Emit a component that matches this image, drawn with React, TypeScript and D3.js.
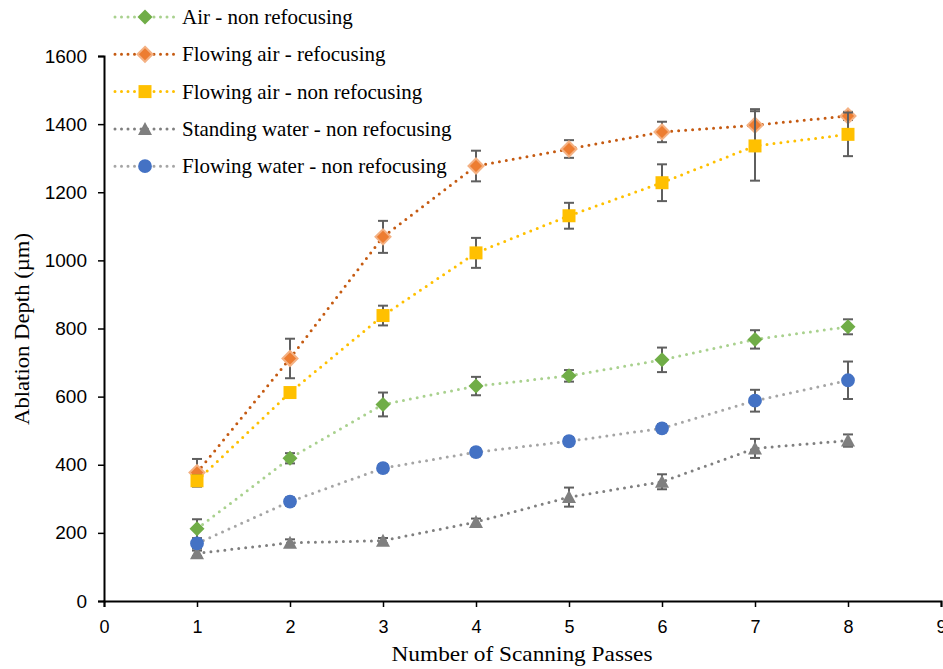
import React, { useRef, useEffect } from "react";
import * as d3 from "d3";

// scanning passes
const passes = [1, 2, 3, 4, 5, 6, 7, 8];

// ablation depth (µm) and standard deviations
const airNonRefocus = [212, 419, 577, 631, 661, 708, 768, 805];
const airNonRefocusErr = [28, 15, 35, 27, 17, 36, 27, 22];

const flowAirRefocus = [377, 712, 1069, 1277, 1327, 1377, 1397, 1424];
const flowAirRefocusErr = [40, 58, 47, 45, 26, 30, 47, 12];

const flowAirNonRefocus = [353, 612, 838, 1022, 1131, 1228, 1336, 1370];
const flowAirNonRefocusErr = [17, 12, 29, 44, 38, 54, 102, 64];

const standWaterNonRefocus = [140, 171, 177, 232, 305, 350, 448, 471];
const standWaterNonRefocusErr = [8, 10, 8, 10, 28, 22, 28, 18];

const flowWaterNonRefocus = [169, 292, 390, 437, 469, 507, 588, 648];
const flowWaterNonRefocusErr = [15, 12, 12, 12, 12, 12, 32, 55];

const seriesNames = [
  "Air - non refocusing",
  "Flowing air - refocusing",
  "Flowing air - non refocusing",
  "Standing water - non refocusing",
  "Flowing water - non refocusing",
];

const xTicks = [0, 1, 2, 3, 4, 5, 6, 7, 8, 9];
const yTicks = [0, 200, 400, 600, 800, 1000, 1200, 1400, 1600];

const series = [
  { name: seriesNames[0], values: airNonRefocus, err: airNonRefocusErr, line: "#A9D18E", fill: "#70AD47", stroke: "none", shape: "diamond" },
  { name: seriesNames[1], values: flowAirRefocus, err: flowAirRefocusErr, line: "#C55A11", fill: "#ED7D31", stroke: "#F4B183", shape: "diamond" },
  { name: seriesNames[2], values: flowAirNonRefocus, err: flowAirNonRefocusErr, line: "#FFC000", fill: "#FFC000", stroke: "none", shape: "square" },
  { name: seriesNames[3], values: standWaterNonRefocus, err: standWaterNonRefocusErr, line: "#7F7F7F", fill: "#7F7F7F", stroke: "none", shape: "triangle" },
  { name: seriesNames[4], values: flowWaterNonRefocus, err: flowWaterNonRefocusErr, line: "#A5A5A5", fill: "#4472C4", stroke: "none", shape: "circle" },
];

function symbolPath(shape) {
  if (shape === "diamond") return "M0,-7.5L7.5,0L0,7.5L-7.5,0Z";
  if (shape === "square") return "M-6.5,-6.5H6.5V6.5H-6.5Z";
  if (shape === "triangle") return "M0,-7L7,6H-7Z";
  return d3.symbol().type(d3.symbolCircle).size(150)();
}

export default function App() {
  const svgRef = useRef(null);
  const W = 943, H = 669;
  const margin = { top: 56, right: 2, bottom: 68, left: 104 };

  useEffect(() => {
    const svg = d3.select(svgRef.current);
    svg.selectAll("*").remove();

    const x = d3.scaleLinear().domain([0, 9]).range([margin.left, W - margin.right]);
    const y = d3.scaleLinear().domain([0, 1600]).range([H - margin.bottom, margin.top]);

    const sansFont = "'Liberation Sans', Arial, sans-serif";
    const serifFont = "'Liberation Serif', 'Times New Roman', serif";

    // X axis
    const gx = svg.append("g")
      .attr("transform", "translate(0," + y(0) + ")")
      .call(d3.axisBottom(x).tickValues(xTicks).tickSize(6).tickPadding(13).tickFormat(d3.format("d")));
    gx.select(".domain").attr("stroke", "#000").attr("stroke-width", 2);
    gx.selectAll(".tick line").attr("stroke", "#000").attr("stroke-width", 1.5);
    gx.selectAll("text").attr("font-family", sansFont).attr("font-size", 18).attr("fill", "#000");

    // Y axis
    const gy = svg.append("g")
      .attr("transform", "translate(" + x(0) + ",0)")
      .call(d3.axisLeft(y).tickValues(yTicks).tickSize(6).tickPadding(11).tickFormat(d3.format("d")));
    gy.select(".domain").attr("stroke", "#000").attr("stroke-width", 2);
    gy.selectAll(".tick line").attr("stroke", "#000").attr("stroke-width", 1.5);
    gy.selectAll("text").attr("font-family", sansFont).attr("font-size", 19).attr("fill", "#000");

    // axis titles
    svg.append("text")
      .attr("x", 522).attr("y", 661)
      .attr("text-anchor", "middle")
      .attr("font-family", serifFont).attr("font-size", 21)
      .attr("textLength", 261).attr("lengthAdjust", "spacingAndGlyphs")
      .text("Number of Scanning Passes");
    svg.append("text")
      .attr("transform", "translate(29," + 329 + ") rotate(-90)")
      .attr("text-anchor", "middle")
      .attr("font-family", serifFont).attr("font-size", 21)
      .attr("textLength", 192).attr("lengthAdjust", "spacingAndGlyphs")
      .text("Ablation Depth (µm)");

    const line = d3.line().x((d) => x(d[0])).y((d) => y(d[1]));

    series.forEach((s) => {
      const pts = passes.map((p, i) => [p, s.values[i]]);
      const g = svg.append("g");

      g.append("path")
        .datum(pts)
        .attr("fill", "none")
        .attr("stroke", s.line)
        .attr("stroke-width", 3)
        .attr("stroke-linecap", "round")
        .attr("stroke-dasharray", "0 7")
        .attr("d", line);

      // error bars
      passes.forEach((p, i) => {
        const cx = x(p);
        const y1 = y(s.values[i] + s.err[i]);
        const y2 = y(s.values[i] - s.err[i]);
        g.append("line").attr("x1", cx).attr("x2", cx).attr("y1", y1).attr("y2", y2)
          .attr("stroke", "#5f5f5f").attr("stroke-width", 2);
        [y1, y2].forEach((yy) => {
          g.append("line").attr("x1", cx - 5).attr("x2", cx + 5).attr("y1", yy).attr("y2", yy)
            .attr("stroke", "#5f5f5f").attr("stroke-width", 2);
        });
      });

      g.selectAll("path.mark")
        .data(pts)
        .join("path")
        .attr("class", "mark")
        .attr("transform", (d) => "translate(" + x(d[0]) + "," + y(d[1]) + ")")
        .attr("d", symbolPath(s.shape))
        .attr("fill", s.fill)
        .attr("stroke", s.stroke)
        .attr("stroke-width", s.stroke === "none" ? 0 : 2);
    });

    // legend
    const legend = svg.append("g");
    series.forEach((s, i) => {
      const ly = 17 + i * 37.3;
      const row = legend.append("g").attr("transform", "translate(0," + ly + ")");
      row.append("line")
        .attr("x1", 115).attr("x2", 174).attr("y1", 0).attr("y2", 0)
        .attr("stroke", s.line).attr("stroke-width", 3)
        .attr("stroke-linecap", "round").attr("stroke-dasharray", "0 6.5");
      row.append("path")
        .attr("transform", "translate(145,0)")
        .attr("d", symbolPath(s.shape))
        .attr("fill", s.fill)
        .attr("stroke", s.stroke)
        .attr("stroke-width", s.stroke === "none" ? 0 : 2);
      row.append("text")
        .attr("x", 182).attr("y", 7)
        .attr("font-family", serifFont).attr("font-size", 21)
        .attr("fill", "#000")
        .text(s.name);
    });
  }, []);

  return (
    <svg ref={svgRef} width={W} height={H}
      style={{ position: "absolute", left: 0, top: 0, background: "#fff" }} />
  );
}
